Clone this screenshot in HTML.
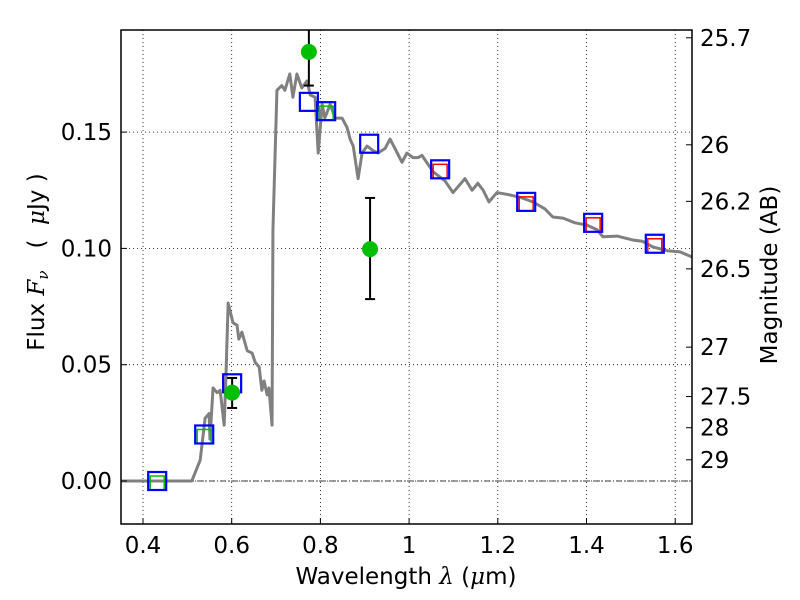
<!DOCTYPE html>
<html><head><meta charset="utf-8"><style>
body{margin:0;background:#fff}
svg{display:block;font-family:"DejaVu Sans","Liberation Sans",sans-serif}
</style></head><body>
<svg id="chart" width="800" height="600" viewBox="0 0 800 600">
<g id="grid"></g>
<g id="spec"></g>
<g id="marks"></g>
<g id="axes"></g>
</svg>
<script>
const specLam=[0.350,0.508,0.510,0.529,0.540,0.549,0.551,0.558,0.567,0.574,0.583,0.587,0.592,0.603,0.612,0.616,0.623,0.635,0.646,0.653,0.662,0.668,0.673,0.680,0.684,0.691,0.693,0.702,0.713,0.720,0.731,0.738,0.747,0.758,0.770,0.777,0.788,0.795,0.804,0.810,0.822,0.833,0.849,0.860,0.867,0.874,0.885,0.894,0.905,0.919,0.930,0.946,0.957,0.968,0.984,0.995,1.009,1.020,1.029,1.054,1.081,1.099,1.126,1.142,1.155,1.167,1.180,1.198,1.227,1.250,1.279,1.306,1.324,1.347,1.374,1.401,1.424,1.437,1.469,1.505,1.527,1.550,1.582,1.611,1.638];
const specFlux=[0,0,0,0.009,0.027,0.029,0.018,0.040,0.038,0.039,0.024,0.045,0.0765,0.068,0.067,0.061,0.064,0.056,0.055,0.051,0.049,0.039,0.043,0.037,0.040,0.024,0.108,0.168,0.170,0.168,0.175,0.165,0.175,0.169,0.172,0.166,0.165,0.141,0.162,0.156,0.162,0.156,0.156,0.152,0.147,0.144,0.130,0.141,0.144,0.142,0.141,0.143,0.147,0.143,0.137,0.141,0.139,0.139,0.140,0.133,0.129,0.124,0.130,0.125,0.128,0.125,0.120,0.124,0.123,0.122,0.120,0.117,0.1135,0.113,0.111,0.110,0.108,0.105,0.1053,0.1036,0.103,0.1006,0.099,0.0985,0.0963];
const modelLam=[0.432,0.538,0.601,0.774,0.813,0.910,1.070,1.264,1.415,1.554];
const modelFlux=[0,0.020,0.042,0.163,0.159,0.145,0.134,0.120,0.111,0.102];
const innerType=["g","g","","","g","","r","r","r","r"];
const obsLam=[0.601,0.774,0.912];
const obsFlux=[0.038,0.1845,0.0997];
const obsLo=[0.0314,0.170,0.0782];
const obsHi=[0.0443,0.215,0.1217];
const xTicks=[0.4,0.6,0.8,1.0,1.2,1.4,1.6];
const xTickLabels=["0.4","0.6","0.8","1","1.2","1.4","1.6"];
const yTicks=[0,0.05,0.10,0.15];
const yTickLabels=["0.00","0.05","0.10","0.15"];
const magTicks=[25.7,26,26.2,26.5,27,27.5,28,29];
const magLabels=["25.7","26","26.2","26.5","27","27.5","28","29"];

const L=121,R=692,T=30,B=524;
const X=l=>143+(l-0.4)*443.5;
const Y=f=>481-f*2326;
const NS="http://www.w3.org/2000/svg";
function mk(parent,tag,attrs,text){const e=document.createElementNS(NS,tag);for(const k in attrs)e.setAttribute(k,attrs[k]);if(text!==undefined)e.textContent=text;parent.appendChild(e);return e;}
const grid=document.getElementById('grid'),spec=document.getElementById('spec'),marks=document.getElementById('marks'),axes=document.getElementById('axes');
mk(grid,'rect',{x:L,y:T,width:R-L,height:B-T,fill:'#fff'});
xTicks.forEach((t,i)=>{
 const g=mk(grid,'line',{x1:X(t),x2:X(t),y1:T,y2:B,stroke:'#000','stroke-width':0.8,'stroke-dasharray':'1,3'});
 
 mk(axes,'line',{x1:X(t),x2:X(t),y1:B,y2:B-6,stroke:'#000'});
 const tl=mk(axes,'text',{x:X(t),y:B+29,'font-size':23,'text-anchor':'middle'},xTickLabels[i]);
 
});
yTicks.forEach((t,i)=>{
 const g=mk(grid,'line',{x1:L,x2:R,y1:Y(t),y2:Y(t),stroke:'#000','stroke-width':0.8,'stroke-dasharray':'1,3'});
 
 mk(axes,'line',{x1:L,x2:L+6,y1:Y(t),y2:Y(t),stroke:'#000'});
 const tl=mk(axes,'text',{x:L-9,y:Y(t)+8,'font-size':23,'text-anchor':'end'},yTickLabels[i]);
 
});
mk(grid,'line',{x1:L,x2:R,y1:Y(0),y2:Y(0),stroke:'#000','stroke-width':0.8,'stroke-dasharray':'6,2,1,2'});
magTicks.forEach((m,i)=>{
 const f=Math.pow(10,(23.9-m)/2.5);const y=Y(f);
 mk(axes,'line',{x1:R,x2:R-6,y1:y,y2:y,stroke:'#000'});
 const tl=mk(axes,'text',{x:R+8,y:y+8,'font-size':23},magLabels[i]);
 
});
const sp=mk(spec,'polyline',{points:specLam.map((l,i)=>X(l)+','+Y(specFlux[i])).join(' '),fill:'none',stroke:'#808080','stroke-width':3,'stroke-linejoin':'round'});

modelLam.forEach((l,i)=>{
 const x=X(l),y=Y(modelFlux[i]);
 if(innerType[i]){const c=innerType[i]=='g'?'#00bf00':'#ff0000';
  const r=mk(marks,'rect',{x:x-7,y:y-5,width:14,height:14,fill:'none',stroke:c,'stroke-width':1.5});
  }
 const b=mk(marks,'rect',{x:x-9,y:y-9,width:18,height:18,fill:'none',stroke:'#0000ff','stroke-width':2.2});
 
});
obsLam.forEach((l,i)=>{
 const x=X(l);
 const e=mk(marks,'line',{x1:x,x2:x,y1:Math.max(Y(obsHi[i]),T),y2:Y(obsLo[i]),stroke:'#000','stroke-width':2});
 
 [obsLo[i],obsHi[i]].forEach(v=>{if(Y(v)>T)mk(marks,'line',{x1:x-5,x2:x+5,y1:Y(v),y2:Y(v),stroke:'#000','stroke-width':2});});
 const c=mk(marks,'circle',{cx:x,cy:Y(obsFlux[i]),r:8,fill:'#00bf00'});
 
});
const fr=mk(axes,'rect',{x:L,y:T,width:R-L,height:B-T,fill:'none',stroke:'#000','stroke-width':1.5});

const xl=mk(axes,'text',{x:406,y:584,'font-size':23,'text-anchor':'middle'});
xl.innerHTML='Wavelength  <tspan font-style="italic" font-family="DejaVu Serif,serif">λ</tspan> (<tspan font-style="italic" font-family="DejaVu Serif,serif">μ</tspan>m)';

const yl=mk(axes,'text',{transform:'translate(44,262) rotate(-90)','font-size':23,'text-anchor':'middle'});
yl.innerHTML='Flux  <tspan font-style="italic" font-family="DejaVu Serif,serif">F<tspan font-size="15" dy="4">ν</tspan></tspan><tspan dy="-4" xml:space="preserve">   (  </tspan><tspan font-style="italic" font-family="DejaVu Serif,serif">μ</tspan>Jy )';

const rl=mk(axes,'text',{transform:'translate(777,275) rotate(-90)','font-size':23,'text-anchor':'middle'},'Magnitude (AB)');

</script>
</body></html>
